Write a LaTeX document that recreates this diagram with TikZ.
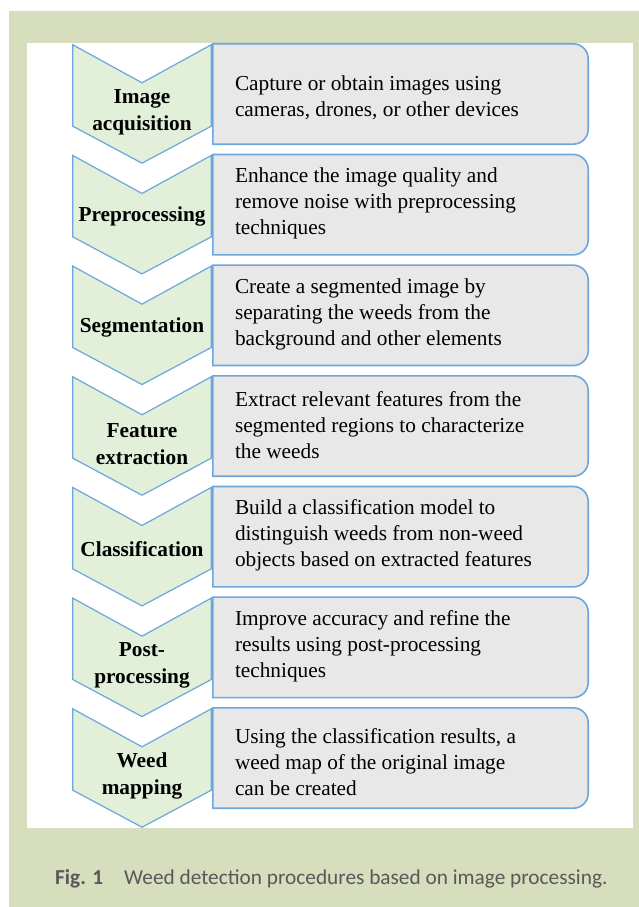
\documentclass[tikz,border=0pt]{standalone}
\usepackage{fontspec}
\setmainfont{Liberation Serif}
\newfontfamily\capfont{Carlito}
\usetikzlibrary{calc}
\definecolor{pagegreen}{HTML}{D6DEBD}
\definecolor{chevfill}{HTML}{E2EFD9}
\definecolor{boxfill}{HTML}{E8E8E8}
\definecolor{edgeblue}{HTML}{6CA6DD}
\definecolor{captext}{HTML}{595959}
\tikzset{
  chevframe/.style={minimum width=138pt, minimum height=118pt, inner sep=0pt, draw=none},
  chevline/.style={draw=edgeblue, line width=1.2pt, fill=chevfill, line join=miter},
  boxframe/.style={minimum width=375pt, minimum height=100pt, inner sep=0pt, draw=none},
  boxline/.style={draw=edgeblue, line width=1.6pt, fill=boxfill},
  steplabel/.style={font=\fontsize{21.3}{27}\selectfont\bfseries, align=center, inner sep=0pt},
  steptext/.style={font=\fontsize{21.3}{26}\selectfont, align=left, inner sep=0pt, anchor=west},
  captionstyle/.style={font=\capfont\fontsize{21.3}{24}\selectfont, text=captext, inner sep=0pt, anchor=base west},
}
% one stage: chevron with its name, and the rounded box with its description
% #1 index, #2 name, #3 name shift, #4 description, #5 description shift
\newcommand\weedstep[5]{%
  \pgfmathsetmacro\ytop{44+110.67*(#1-1)}
  \node[chevframe] (c#1) at (142,\ytop+60) {};
  \path[chevline] (c#1.north west) -- ($(c#1.north)+(0,38)$) -- (c#1.north east)
    -- ($(c#1.south east)+(0,-37)$) -- (c#1.south) -- ($(c#1.south west)+(0,-37)$) -- cycle;
  \node[steplabel] (l#1) at ($(c#1.center)+(0,#3)$) {#2};
  \node[boxframe] (b#1) at (400.5,\ytop+50) {};
  \path[boxline] (b#1.south west) -- (b#1.north west) -- ($(b#1.north east)+(-15,0)$)
    .. controls ($(b#1.north east)+(-6.72,0)$) and ($(b#1.north east)+(0,6.72)$) .. ($(b#1.north east)+(0,15)$)
    -- ($(b#1.south east)+(0,-15)$)
    .. controls ($(b#1.south east)+(0,-6.72)$) and ($(b#1.south east)+(-6.72,0)$) .. ($(b#1.south east)+(-15,0)$)
    -- cycle;
  \node[steptext] (t#1) at ($(b#1.west)+(22,#5)$) {#4};
}
\begin{document}
\begin{tikzpicture}[x=1pt,y=-1pt]
  \useasboundingbox (0,0) rectangle (639,907);
  \fill[pagegreen] (9,11) rectangle (639,907);
  \fill[white] (27,43) rectangle (633,828);

  \weedstep{1}{Image\\acquisition}{8}{Capture or obtain images using\\cameras, drones, or other devices}{4}
  \weedstep{2}{Preprocessing}{2}{Enhance the image quality and\\remove noise with preprocessing\\techniques}{-1}
  \weedstep{3}{Segmentation}{2}{Create a segmented image by\\separating the weeds from the\\background and other elements}{-1}
  \weedstep{4}{Feature\\extraction}{8}{Extract relevant features from the\\segmented regions to characterize\\the weeds}{-1}
  \weedstep{5}{Classification}{2}{Build a classification model to\\distinguish weeds from non-weed\\objects based on extracted features}{-1}
  \weedstep{6}{Post-\\processing}{8}{Improve accuracy and refine the\\results using post-processing\\techniques}{-1}
  \weedstep{7}{Weed\\mapping}{8}{Using the classification results, a\\weed map of the original image\\can be created}{4}

  \node[captionstyle] (cap) at (55,884)
    {\textbf{Fig. 1}\hspace{21pt}Weed detection procedures based on image processing.};
\end{tikzpicture}
\end{document}
